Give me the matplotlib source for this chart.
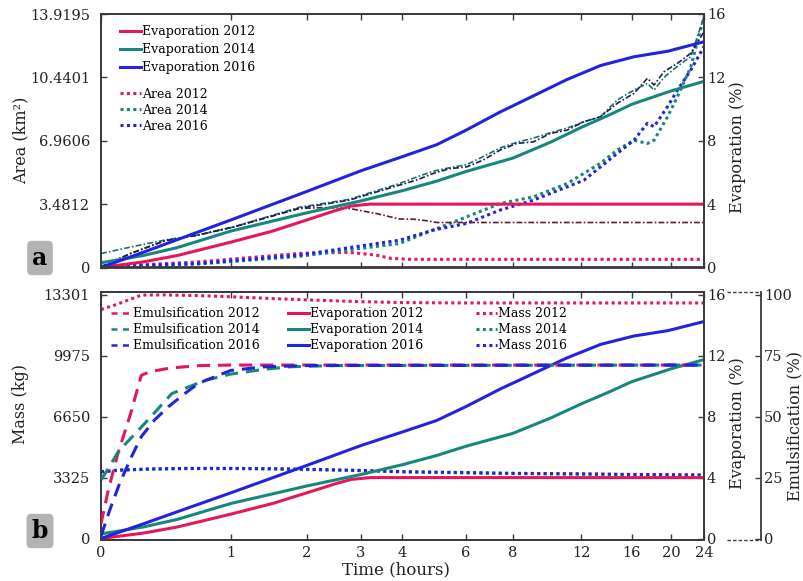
import numpy as np
import matplotlib
matplotlib.use('Agg')
import matplotlib.pyplot as plt
from matplotlib.lines import Line2D

plt.rcParams['font.family'] = ['DejaVu Serif']
plt.rcParams['font.size'] = 10

# colours
red = '#e3185c'
teal = '#17877d'
blue = '#2323dd'
dd_colors = ['#5c1c2e', '#1f6e66', '#1a1f5c']
axis_col = '#3a3a3a'

# time axis (hours)
x_ticks = [0, 1, 2, 3, 4, 6, 8, 12, 16, 20, 24]

# evaporation (%) - same runs in both panels
t_evap12 = [0, 0.25, 0.5, 1, 1.5, 2, 2.5, 2.8, 3.2, 4, 24]
evap12 = [0, 0.35, 0.75, 1.6, 2.3, 3.0, 3.6, 3.88, 4.0, 4.0, 4.0]
t_evap14 = [0, 0.25, 0.5, 1, 2, 3, 4, 5, 6, 8, 10, 12, 14, 16, 20, 24]
evap14 = [0.3, 0.75, 1.25, 2.3, 3.45, 4.2, 4.85, 5.45, 6.05, 6.9, 7.9, 8.85, 9.6, 10.3, 11.15, 11.75]
t_evap16 = [0, 0.25, 0.5, 1, 2, 3, 4, 5, 6, 7.4, 9, 11, 13.4, 16.2, 19.6, 24]
evap16 = [0, 0.95, 1.75, 3.0, 4.8, 6.1, 7.0, 7.75, 8.65, 9.8, 10.8, 11.85, 12.75, 13.3, 13.65, 14.25]

# slick area (km2)
t_area12 = [0, 0.68, 1.88, 2.3, 2.76, 3.34, 3.7, 4.2, 24]
area12 = [0.03, 0.31, 0.77, 0.81, 0.83, 0.68, 0.5, 0.45, 0.45]
t_area14 = [0, 0.68, 1.88, 3.92, 4.88, 6.04, 7.41, 9.06, 11.04, 13.38, 14.73, 16.2, 17.48, 18.15, 19.57, 20.7, 22.3, 24]
area14 = [0.03, 0.19, 0.61, 1.32, 2.05, 2.78, 3.51, 3.88, 4.61, 5.72, 6.45, 6.99, 6.81, 6.99, 8.27, 9.38, 11.02, 13.77]
t_area16 = [0, 0.68, 1.88, 3.92, 4.88, 6.04, 7.41, 9.06, 11.04, 12.16, 13.38, 14.73, 16.2, 17.48, 18.15, 19.57, 20.7, 22.3, 24]
area16 = [0.03, 0.22, 0.68, 1.5, 2.05, 2.42, 3.15, 3.7, 4.43, 4.79, 5.52, 6.26, 6.99, 7.92, 7.73, 8.83, 9.74, 10.84, 12.13]

# unlabelled dash-dot curves of panel a (right axis units)
t_dd12 = [0, 0.175, 0.41, 0.68, 1.03, 1.88, 2.3, 2.76, 3.34, 3.92, 4.3, 4.7, 5.0, 24]
dd12 = [0.05, 0.9, 1.7, 2.05, 2.56, 3.73, 3.78, 3.73, 3.41, 3.06, 3.05, 2.95, 2.84, 2.84]
t_dd = [0, 0.175, 0.41, 0.68, 1.03, 1.88, 2.76, 3.92, 4.38, 4.88, 5.43, 6.04, 6.69, 7.41, 8.2, 9.06,
        10.0, 11.04, 12.16, 13.38, 14.73, 16.2, 17.48, 18.15, 19.2, 20.7, 22.3, 24]
dd14 = [0.88, 1.3, 1.74, 2.05, 2.56, 3.8, 4.3, 5.3, 5.7, 6.07, 6.3, 6.49, 7.0, 7.54, 7.9, 8.17,
        8.5, 8.8, 9.2, 9.51, 10.57, 11.2, 11.62, 11.2, 12.0, 12.7, 13.31, 15.83]
dd16 = [0.05, 0.9, 1.7, 2.05, 2.56, 3.73, 4.25, 5.2, 5.51, 5.93, 6.24, 6.35, 6.78, 7.41, 7.83, 7.93,
        8.46, 8.67, 9.2, 9.51, 10.36, 10.99, 11.94, 11.52, 12.36, 12.89, 13.52, 14.88]

# emulsification (%)
t_emul12 = [0, 0.04, 0.095, 0.17, 0.24, 0.3, 0.45, 0.7, 1.0, 24]
emul12 = [6, 20, 35, 51, 67, 68.5, 70, 71, 71.2, 71.2]
t_emul14 = [0, 0.05, 0.1, 0.2, 0.29, 0.46, 0.75, 1.0, 1.4, 1.75, 2.5, 24]
emul14 = [24, 30, 36, 43, 49, 59.5, 65, 67.5, 69.5, 70.5, 71, 71.2]
t_emul16 = [0, 0.048, 0.105, 0.177, 0.24, 0.33, 0.433, 0.567, 0.683, 1.0, 1.4, 2, 24]
emul16 = [1, 11.7, 22.7, 33.6, 41.8, 48.6, 54.1, 59.6, 63.7, 69, 70.5, 71, 71.2]

# mass (kg)
t_mass12 = [0, 0.08, 0.16, 0.24, 0.4, 0.7, 1, 1.5, 2, 3, 4, 6, 10, 24]
mass12 = [12500, 12760, 13030, 13290, 13300, 13260, 13200, 13100, 13030, 12930, 12880, 12860, 12860, 12860]
t_mass = [0, 0.1, 0.3, 0.6, 1, 1.5, 2, 3, 4, 6, 8, 12, 16, 20, 24]
mass14 = [3630, 3720, 3785, 3815, 3815, 3795, 3765, 3705, 3635, 3585, 3545, 3515, 3485, 3465, 3455]
mass16 = [3650, 3740, 3800, 3830, 3830, 3810, 3780, 3720, 3650, 3600, 3560, 3530, 3500, 3480, 3470]

area_ticks = [0, 3.4812, 6.9606, 10.4401, 13.9195]
mass_ticks = [0, 3325, 6650, 9975, 13301]
evap_ticks = [0, 4, 8, 12, 16]
emul_ticks = [0, 25, 50, 75, 100]

W, H = 804, 581
fig = plt.figure(figsize=(W / 100, H / 100), dpi=100)


def box(l, t, r, b):
    return [l / W, 1 - b / H, (r - l) / W, (b - t) / H]


def style(ax, right=False):
    ax.set_xscale('function', functions=(np.log1p, np.expm1))
    ax.set_xlim(0, 24)
    ax.set_xticks(x_ticks)
    ax.set_xticklabels([str(t) for t in x_ticks])
    ax.minorticks_off()
    ax.tick_params(direction='in', length=4, width=1, colors=axis_col,
                   labelcolor='#222', labelsize=10.5, top=True)
    ax.tick_params(axis='x', pad=4.5)
    ax.tick_params(axis='y', pad=2 if right else 8)
    for s in ax.spines.values():
        s.set_linewidth(1.3)
        s.set_color(axis_col)


lw = 2.2
dot = (0, (1, 1.1))
dash = (0, (4.3, 2.6))
ddash = (0, (3.5, 1.3, 1, 1.3))
lab_kw = dict(fontsize=11.5, color='#222')

# ---------------- panel a ----------------
axa = fig.add_axes(box(101, 14, 704, 267.5))
style(axa)
axa.tick_params(labelbottom=False)
axa.set_ylim(0, 13.9195)
axa.set_yticks(area_ticks)
axa.set_yticklabels(['0', '3.4812', '6.9606', '10.4401', '13.9195'])
axa.set_ylabel('Area (km²)', **lab_kw)
axa.yaxis.set_label_coords(-0.119, 0.5)

axa.plot(t_area12, area12, ls=dot, color=red, lw=lw)
axa.plot(t_area14, area14, ls=dot, color=teal, lw=lw)
axa.plot(t_area16, area16, ls=dot, color=blue, lw=lw)

axa2 = axa.twinx()
style(axa2, right=True)
axa2.set_ylim(0, 16)
axa2.set_yticks(evap_ticks)
axa2.set_ylabel('Evaporation (%)', **lab_kw)
axa2.yaxis.set_label_coords(1.041, 0.473)

axa2.plot(t_dd12, dd12, ls=ddash, color=dd_colors[0], lw=1.2)
axa2.plot(t_dd, dd14, ls=ddash, color=dd_colors[1], lw=1.2)
axa2.plot(t_dd, dd16, ls=ddash, color=dd_colors[2], lw=1.2)
axa2.plot(t_evap12, evap12, color=red, lw=lw)
axa2.plot(t_evap14, evap14, color=teal, lw=lw)
axa2.plot(t_evap16, evap16, color=blue, lw=lw)

leg_kw = dict(loc='upper left', frameon=False, fontsize=9, handlelength=1.65,
              handletextpad=0.12, borderpad=0, borderaxespad=0)
h_evap = [Line2D([], [], color=c, lw=lw) for c in (red, teal, blue)]
h_area = [Line2D([], [], color=c, lw=lw, ls=dot) for c in (red, teal, blue)]
lg1 = axa2.legend(h_evap, ['Evaporation 2012', 'Evaporation 2014', 'Evaporation 2016'],
                  bbox_to_anchor=(0.0315, 0.955), labelspacing=0.38, **leg_kw)
axa2.add_artist(lg1)
axa2.legend(h_area, ['Area 2012', 'Area 2014', 'Area 2016'],
            bbox_to_anchor=(0.0315, 0.71), labelspacing=0.25, **leg_kw)

# ---------------- panel b ----------------
axb = fig.add_axes(box(101, 292, 704, 540))
style(axb)
axb.set_ylim(-0.0985 * 13301 / 16, 16.19 * 13301 / 16)
axb.set_yticks(mass_ticks)
axb.set_ylabel('Mass (kg)', **lab_kw)
axb.yaxis.set_label_coords(-0.119, 0.55)
axb.set_xlabel('Time (hours)', fontsize=12, color='#222')
axb.xaxis.set_label_coords(0.49, -0.085)

axb.plot(t_mass12, mass12, ls=dot, color=red, lw=lw)
axb.plot(t_mass, mass14, ls=dot, color=teal, lw=lw)
axb.plot(t_mass, mass16, ls=dot, color=blue, lw=lw)

axb2 = axb.twinx()
style(axb2, right=True)
axb2.set_ylim(-0.0985, 16.19)
axb2.set_yticks(evap_ticks)
axb2.set_ylabel('Evaporation (%)', **lab_kw)
axb2.yaxis.set_label_coords(1.041, 0.47)
axb2.plot(t_evap12, evap12, color=red, lw=lw)
axb2.plot(t_evap14, evap14, color=teal, lw=lw)
axb2.plot(t_evap16, evap16, color=blue, lw=lw)

axb3 = axb.twinx()
style(axb3, right=True)
for s in ('top', 'bottom', 'left'):
    axb3.spines[s].set_visible(False)
spine_x = (761 - 101) / 603
axb3.spines['right'].set_position(('axes', spine_x))
axb3.set_ylim(-0.0985 * 6.25, 16.19 * 6.25)
axb3.set_yticks(emul_ticks)
axb3.set_ylabel('Emulsification (%)', **lab_kw)
axb3.yaxis.set_label_coords(1.136, 0.46)
axb3.plot(t_emul12, emul12, ls=dash, color=red, lw=lw)
axb3.plot(t_emul14, emul14, ls=dash, color=teal, lw=lw)
axb3.plot(t_emul16, emul16, ls=dash, color=blue, lw=lw)

# dashed links between the two right axes
for yy in (0, 1):
    axb.plot([(727 - 101) / 603, spine_x], [yy, yy], transform=axb.transAxes,
             clip_on=False, ls=(0, (2.5, 1.5)), lw=1, color=axis_col)

h_emul = [Line2D([], [], color=c, lw=lw - 0.4, ls=(0, (2.4, 2.2))) for c in (red, teal, blue)]
h_mass = [Line2D([], [], color=c, lw=lw, ls=dot) for c in (red, teal, blue)]
lb1 = axb3.legend(h_emul, ['Emulsification 2012', 'Emulsification 2014', 'Emulsification 2016'],
                  bbox_to_anchor=(0.0166, 0.94), labelspacing=0.25, **leg_kw)
axb3.add_artist(lb1)
lb2 = axb3.legend(h_evap, ['Evaporation 2012', 'Evaporation 2014', 'Evaporation 2016'],
                  bbox_to_anchor=(0.310, 0.94), labelspacing=0.25, **leg_kw)
axb3.add_artist(lb2)
axb3.legend(h_mass, ['Mass 2012', 'Mass 2014', 'Mass 2016'],
            bbox_to_anchor=(0.622, 0.94), labelspacing=0.25, **leg_kw)

# panel letters
for lab, yc in (('a', 258), ('b', 531)):
    fig.text(40 / W, 1 - yc / H, lab, ha='center', va='center', fontsize=17,
             fontweight='bold', color='black',
             bbox=dict(boxstyle='round,pad=0.22,rounding_size=0.2', fc='#b3b3b3', ec='none'))

fig.savefig('out.png', dpi=100)
